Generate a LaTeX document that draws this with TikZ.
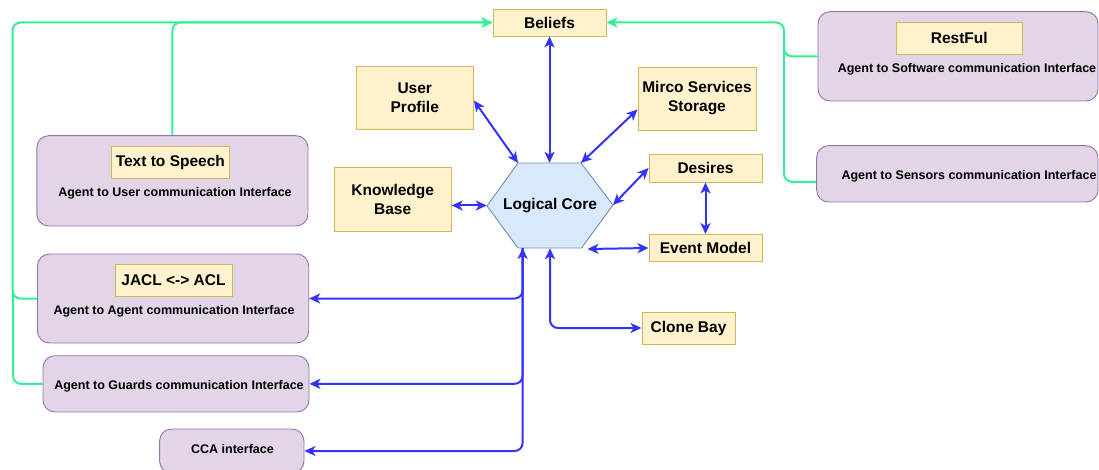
\documentclass[tikz,border=0pt]{standalone}
\usepackage{fontspec}
\setmainfont{Liberation Sans}
\usetikzlibrary{arrows.meta,calc}
\definecolor{ybg}{HTML}{FFF2CC}\definecolor{ybd}{HTML}{D6B656}
\definecolor{pbg}{HTML}{E1D5E7}\definecolor{pbd}{HTML}{9673A6}
\definecolor{hbg}{HTML}{DAE8FC}\definecolor{hbd}{HTML}{6C8EBF}
\definecolor{gline}{RGB}{51,240,150}\definecolor{bline}{HTML}{3333FF}
\tikzset{
  ybox/.style={draw=ybd,fill=ybg,line width=0.9pt,inner sep=0pt,align=center,font=\fontsize{15.5}{19}\selectfont\bfseries},
  pbox/.style={draw=pbd,fill=pbg,line width=0.9pt,rounded corners=12pt,inner sep=0pt},
  sub/.style={inner sep=0pt,font=\fontsize{12.5}{14}\selectfont\bfseries},
  gar/.style={draw=gline,line width=2pt,rounded corners=8pt},
  bar/.style={draw=bline,line width=2pt,rounded corners=8pt},
  tip/.style={-{Stealth[length=11pt,width=10pt,inset=3pt]}},
  tips/.style={{Stealth[length=11pt,width=10pt,inset=3pt]}-{Stealth[length=11pt,width=10pt,inset=3pt]}},
}
\begin{document}
\begin{tikzpicture}[x=1pt,y=-1pt]
\useasboundingbox (0,0) rectangle (1099,470);
% yellow boxes
\node[ybox,minimum width=113pt,minimum height=27pt] (beliefs) at (549.5,22.5) {Beliefs};
\node[ybox,minimum width=117.5pt,minimum height=63pt] (user) at (414.75,97.5) {User\\Profile};
\node[ybox,minimum width=118pt,minimum height=63pt] (micro) at (697,98.5) {Mirco Services\\Storage};
\node[ybox,minimum width=117pt,minimum height=64pt] (kb) at (392.7,199) {Knowledge\\Base};
\node[ybox,minimum width=113pt,minimum height=28pt] (desires) at (705.5,168) {Desires};
\node[ybox,minimum width=113pt,minimum height=27pt] (event) at (705.5,248) {Event Model};
\node[ybox,minimum width=93pt,minimum height=32pt] (clone) at (688.5,328) {Clone Bay};
% hexagon
\coordinate (hL) at (487,206); \coordinate (hTL) at (518,163); \coordinate (hTR) at (581,163);
\coordinate (hR) at (613,205); \coordinate (hBR) at (581.5,248); \coordinate (hBL) at (518,248);
\path[draw=hbd,fill=hbg,line width=0.9pt] (hL)--(hTL)--(hTR)--(hR)--(hBR)--(hBL)--cycle;
\node[inner sep=0pt,minimum width=126pt,minimum height=85pt,font=\fontsize{15.5}{19}\selectfont\bfseries] (core) at (550,205.5) {Logical Core};
% purple boxes
\node[pbox,minimum width=280pt,minimum height=89.3pt] (rest) at (958,56.35) {};
\node[ybox,minimum width=125.5pt,minimum height=31.3pt] (restful) at (959.25,38.35) {RestFul};
\node[sub] (restsub) at (967,69) {Agent to Software communication Interface};
\node[pbox,minimum width=281.4pt,minimum height=56.3pt] (sens) at (957.3,173.85) {};
\node[sub] (senssub) at (969,176.7) {Agent to Sensors communication Interface};
\node[pbox,minimum width=271.2pt,minimum height=90.3pt] (tts) at (172.4,180.85) {};
\node[ybox,minimum width=118.7pt,minimum height=32pt] (ttsin) at (170.35,162) {Text to Speech};
\node[sub] (ttssub) at (175,193) {Agent to User communication Interface};
\node[pbox,minimum width=271.2pt,minimum height=89pt] (a2a) at (173.1,298.5) {};
\node[ybox,minimum width=117pt,minimum height=31.7pt] (jacl) at (173.5,280.15) {JACL <-> ACL};
\node[sub] (a2asub) at (174,311) {Agent to Agent communication Interface};
\node[pbox,minimum width=266pt,minimum height=56.3pt] (guards) at (176,383.85) {};
\node[sub] (guardsub) at (179,386) {Agent to Guards communication Interface};
\node[pbox,minimum width=144.4pt,minimum height=44pt] (cca) at (231.8,451) {};
\node[sub] (ccasub) at (232.5,449) {CCA interface};
% blue connectors
\draw[bar,tips] (beliefs.south) -- (beliefs.south |- core.north);
\draw[bar,tips] ([yshift=-3pt]user.east) -- (hTL);
\draw[bar,tips] ([yshift=-11pt]micro.west) -- (hTR);
\draw[bar,tips] (kb.east |- core.west) -- (core.west);
\draw[bar,tips] (desires.west) -- (hR);
\draw[bar,tips] (desires.south) -- (event.north);
\draw[bar,tips] ([xshift=6pt,yshift=-1pt]hBR) -- (event.west);
\draw[bar,tips] (core.south) |- (clone.west);
\coordinate (hb) at (522.6,248);
\draw[bar,tips] (hb) |- (a2a.east);
\draw[bar,tip] (hb) |- (guards.east);
\draw[bar,tip] (hb) |- (cca.east);
% green connectors
\draw[gar,tip] (tts.north) |- (beliefs.west);
\draw[gar,tip] (a2a.west) -- ++(-24.5,0) |- (beliefs.west);
\draw[gar] (guards.west) -| (13,290);
\draw[gar,tip] (rest.west) -- (784,56.35) |- (beliefs.east);
\draw[gar] ([yshift=-8pt]sens.west) -| (784,45);
\end{tikzpicture}
\end{document}
